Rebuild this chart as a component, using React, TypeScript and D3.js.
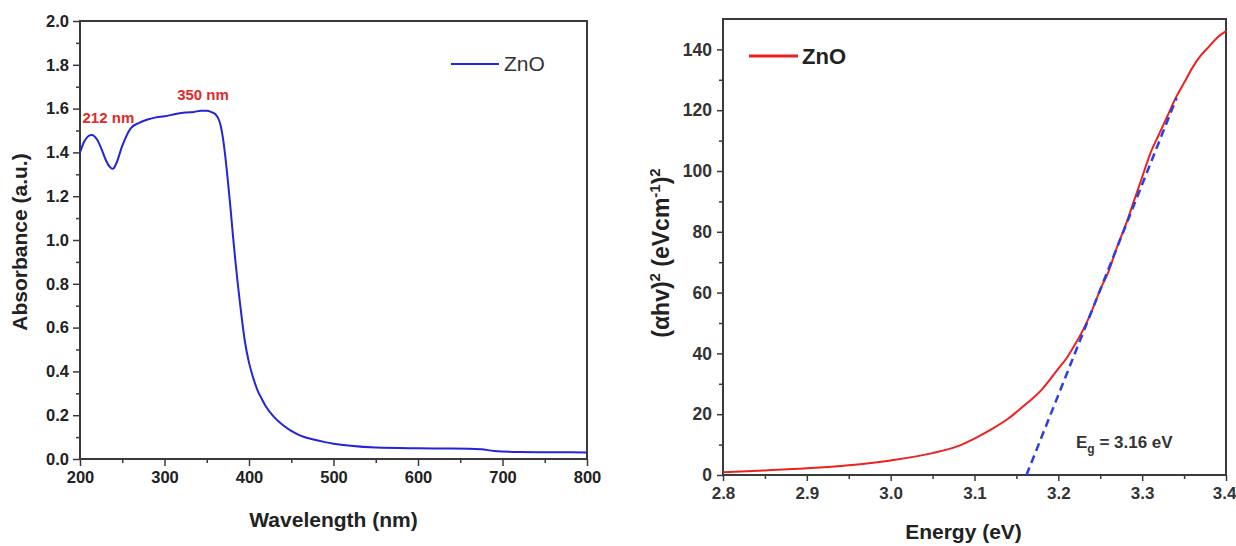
import { useEffect, useRef } from "react";
import * as d3 from "d3";

// Left panel: UV-Vis absorbance of ZnO
const wavelengths = [200, 205, 210, 214, 220, 225, 230, 235, 239, 243, 250, 260, 270, 280, 290, 300, 313, 325, 335, 343, 350, 355, 360, 363, 366, 369, 372, 375, 378, 381, 384, 387, 390, 395, 400, 405, 410, 415, 420, 430, 440, 450, 460, 475, 490, 500, 520, 550, 600, 630, 660, 675, 690, 720, 760, 800];
const absorbance = [1.4, 1.45, 1.475, 1.48, 1.46, 1.42, 1.37, 1.335, 1.325, 1.35, 1.43, 1.51, 1.535, 1.55, 1.56, 1.565, 1.575, 1.582, 1.585, 1.59, 1.59, 1.585, 1.575, 1.56, 1.53, 1.47, 1.38, 1.27, 1.15, 1.02, 0.9, 0.79, 0.69, 0.54, 0.44, 0.37, 0.315, 0.275, 0.24, 0.19, 0.155, 0.128, 0.108, 0.09, 0.077, 0.07, 0.06, 0.052, 0.049, 0.048, 0.047, 0.044, 0.037, 0.032, 0.031, 0.03];
const absTicks = [0, 0.2, 0.4, 0.6, 0.8, 1.0, 1.2, 1.4, 1.6, 1.8, 2.0];
const wlTicks = [200, 300, 400, 500, 600, 700, 800];

// Right panel: Tauc plot
const energy = [2.8, 2.85, 2.9, 2.95, 3.0, 3.05, 3.08, 3.1, 3.12, 3.14, 3.16, 3.18, 3.2, 3.21, 3.22, 3.23, 3.24, 3.25, 3.26, 3.27, 3.28, 3.29, 3.3, 3.31, 3.32, 3.33, 3.34, 3.35, 3.36, 3.37, 3.38, 3.39, 3.4];
const tauc = [0.9, 1.5, 2.2, 3.2, 4.8, 7.2, 9.5, 12, 15, 18.5, 23, 28, 35, 38.5, 43, 48, 54, 61, 67, 75, 82, 90, 98, 106, 112, 118, 124, 129, 134, 138, 141, 144, 146];
const fitEnergy = [3.162, 3.341];
const fitValue = [0, 124];
const taucTicks = [0, 20, 40, 60, 80, 100, 120, 140];
const energyTicks = [2.8, 2.9, 3.0, 3.1, 3.2, 3.3, 3.4];

const FONT = "'Liberation Sans', Arial, sans-serif";
const FRAME = "#3a3a3a";

export default function App() {
  const ref = useRef<SVGSVGElement>(null);

  useEffect(() => {
    const svg = d3.select(ref.current);
    svg.selectAll("*").remove();

    // ---------- LEFT PANEL ----------
    const L = { left: 80, right: 587, top: 21, bottom: 459 };
    const xL = d3.scaleLinear().domain([200, 800]).range([L.left, L.right]);
    const yL = d3.scaleLinear().domain([0, 2]).range([L.bottom, L.top]);

    const gl = svg.append("g");

    // minor ticks
    gl.append("g")
      .attr("transform", `translate(0,${L.bottom})`)
      .call(d3.axisBottom(xL).tickValues(d3.range(250, 800, 100)).tickSize(4).tickFormat(() => ""))
      .call(g => g.select(".domain").remove())
      .call(g => g.selectAll(".tick line").attr("stroke", FRAME).attr("stroke-width", 1.5));
    gl.append("g")
      .attr("transform", `translate(${L.left},0)`)
      .call(d3.axisLeft(yL).tickValues(d3.range(0.1, 2, 0.2)).tickSize(4).tickFormat(() => ""))
      .call(g => g.select(".domain").remove())
      .call(g => g.selectAll(".tick line").attr("stroke", FRAME).attr("stroke-width", 1.5));

    gl.append("g")
      .attr("transform", `translate(0,${L.bottom})`)
      .call(d3.axisBottom(xL).tickValues(wlTicks).tickSize(7).tickPadding(5).tickFormat(d3.format("d")))
      .call(g => g.select(".domain").remove())
      .call(g => g.selectAll(".tick line").attr("stroke", FRAME).attr("stroke-width", 1.5))
      .call(g => g.selectAll("text").attr("fill", "#222").style("font-size", "16.5px").style("font-weight", "bold").style("font-family", FONT));
    gl.append("g")
      .attr("transform", `translate(${L.left},0)`)
      .call(d3.axisLeft(yL).tickValues(absTicks).tickSize(7).tickPadding(4).tickFormat(d3.format(".1f")))
      .call(g => g.select(".domain").remove())
      .call(g => g.selectAll(".tick line").attr("stroke", FRAME).attr("stroke-width", 1.5))
      .call(g => g.selectAll("text").attr("fill", "#222").style("font-size", "16.5px").style("font-weight", "bold").style("font-family", FONT));

    gl.append("rect")
      .attr("x", L.left).attr("y", L.top)
      .attr("width", L.right - L.left).attr("height", L.bottom - L.top)
      .attr("fill", "none").attr("stroke", FRAME).attr("stroke-width", 2);

    const absLine = d3.line<number>()
      .x((d, i) => xL(wavelengths[i]))
      .y(d => yL(d))
      .curve(d3.curveMonotoneX);
    gl.append("path")
      .attr("d", absLine(absorbance))
      .attr("fill", "none").attr("stroke", "#2424d8").attr("stroke-width", 2);

    // peak labels
    gl.append("text").attr("x", xL(203)).attr("y", yL(1.535))
      .text("212 nm").attr("fill", "#e02a2a").style("font-size", "15px").style("font-weight", "bold").style("font-family", FONT);
    gl.append("text").attr("x", xL(315)).attr("y", yL(1.64))
      .text("350 nm").attr("fill", "#e02a2a").style("font-size", "15px").style("font-weight", "bold").style("font-family", FONT);

    // legend
    gl.append("line").attr("x1", 451).attr("x2", 499).attr("y1", 64).attr("y2", 64)
      .attr("stroke", "#2424d8").attr("stroke-width", 2);
    gl.append("text").attr("x", 504).attr("y", 71).text("ZnO")
      .attr("fill", "#333").style("font-size", "21px").style("font-family", FONT);

    gl.append("text")
      .attr("x", (L.left + L.right) / 2).attr("y", 527)
      .attr("text-anchor", "middle").text("Wavelength (nm)")
      .attr("fill", "#222").style("font-size", "21px").style("font-weight", "bold").style("font-family", FONT);
    gl.append("text")
      .attr("transform", `translate(27,${(L.top + L.bottom) / 2 + 2}) rotate(-90)`)
      .attr("text-anchor", "middle").text("Absorbance (a.u.)")
      .attr("fill", "#222").style("font-size", "21px").style("font-weight", "bold").style("font-family", FONT);

    // ---------- RIGHT PANEL ----------
    const R = { left: 723, right: 1226, top: 19, bottom: 475 };
    const xR = d3.scaleLinear().domain([2.8, 3.4]).range([R.left, R.right]);
    const yR = d3.scaleLinear().domain([0, 150]).range([R.bottom, R.top]);

    const gr = svg.append("g");

    gr.append("g")
      .attr("transform", `translate(0,${R.bottom})`)
      .call(d3.axisBottom(xR).tickValues(d3.range(2.85, 3.4, 0.1)).tickSize(4).tickFormat(() => ""))
      .call(g => g.select(".domain").remove())
      .call(g => g.selectAll(".tick line").attr("stroke", FRAME).attr("stroke-width", 1.5));
    gr.append("g")
      .attr("transform", `translate(${R.left},0)`)
      .call(d3.axisLeft(yR).tickValues(d3.range(10, 150, 20)).tickSize(4).tickFormat(() => ""))
      .call(g => g.select(".domain").remove())
      .call(g => g.selectAll(".tick line").attr("stroke", FRAME).attr("stroke-width", 1.5));

    gr.append("g")
      .attr("transform", `translate(0,${R.bottom})`)
      .call(d3.axisBottom(xR).tickValues(energyTicks).tickSize(6).tickPadding(6).tickFormat(d3.format(".1f")))
      .call(g => g.select(".domain").remove())
      .call(g => g.selectAll(".tick line").attr("stroke", FRAME).attr("stroke-width", 1.5))
      .call(g => g.selectAll("text").attr("fill", "#333").style("font-size", "17px").style("font-weight", "bold").style("font-family", FONT))
      .call(g => g.selectAll<SVGTextElement, number>("text").filter(d => d === 3.4).attr("text-anchor", "end").attr("dx", 10));
    gr.append("g")
      .attr("transform", `translate(${R.left},0)`)
      .call(d3.axisLeft(yR).tickValues(taucTicks).tickSize(6).tickPadding(5).tickFormat(d3.format("d")))
      .call(g => g.select(".domain").remove())
      .call(g => g.selectAll(".tick line").attr("stroke", FRAME).attr("stroke-width", 1.5))
      .call(g => g.selectAll("text").attr("fill", "#333").style("font-size", "17.5px").style("font-weight", "bold").style("font-family", FONT));

    gr.append("rect")
      .attr("x", R.left).attr("y", R.top)
      .attr("width", R.right - R.left).attr("height", R.bottom - R.top)
      .attr("fill", "none").attr("stroke", FRAME).attr("stroke-width", 2);

    const taucLine = d3.line<number>()
      .x((d, i) => xR(energy[i]))
      .y(d => yR(d))
      .curve(d3.curveMonotoneX);
    gr.append("path")
      .attr("d", taucLine(tauc))
      .attr("fill", "none").attr("stroke", "#ee2020").attr("stroke-width", 2);

    const fitLine = d3.line<number>()
      .x((d, i) => xR(fitEnergy[i]))
      .y(d => yR(d));
    gr.append("path")
      .attr("d", fitLine(fitValue))
      .attr("fill", "none").attr("stroke", "#2a3ee8").attr("stroke-width", 2.5)
      .attr("stroke-dasharray", "8,5");

    const eg = gr.append("text").attr("x", 1076).attr("y", 448)
      .attr("fill", "#333").style("font-size", "17px").style("font-weight", "bold").style("font-family", FONT);
    eg.append("tspan").text("E");
    eg.append("tspan").attr("dy", 5).style("font-size", "12px").text("g");
    eg.append("tspan").attr("dy", -5).text(" = 3.16 eV");

    // legend
    gr.append("line").attr("x1", 749).attr("x2", 798).attr("y1", 56).attr("y2", 56)
      .attr("stroke", "#ee2020").attr("stroke-width", 3);
    gr.append("text").attr("x", 802).attr("y", 64).text("ZnO")
      .attr("fill", "#222").style("font-size", "22px").style("font-weight", "bold").style("font-family", FONT);

    gr.append("text")
      .attr("x", (R.left + R.right) / 2 - 11).attr("y", 539)
      .attr("text-anchor", "middle").text("Energy (eV)")
      .attr("fill", "#222").style("font-size", "21px").style("font-weight", "bold").style("font-family", FONT);

    const yl = gr.append("text")
      .attr("transform", `translate(669,${(R.top + R.bottom) / 2 + 6}) rotate(-90)`)
      .attr("text-anchor", "middle")
      .attr("fill", "#222").style("font-size", "23px").style("font-weight", "bold").style("font-family", FONT);
    yl.append("tspan").text("(\u03b1hv)");
    yl.append("tspan").attr("dy", -9).style("font-size", "15px").text("2");
    yl.append("tspan").attr("dy", 9).text(" (eVcm");
    yl.append("tspan").attr("dy", -9).style("font-size", "15px").text("-1");
    yl.append("tspan").attr("dy", 9).text(")");
    yl.append("tspan").attr("dy", -9).style("font-size", "15px").text("2");
  }, []);

  return (
    <svg
      ref={ref}
      width={1236}
      height={546}
      style={{ position: "absolute", left: 0, top: 0, background: "#fff" }}
    />
  );
}
